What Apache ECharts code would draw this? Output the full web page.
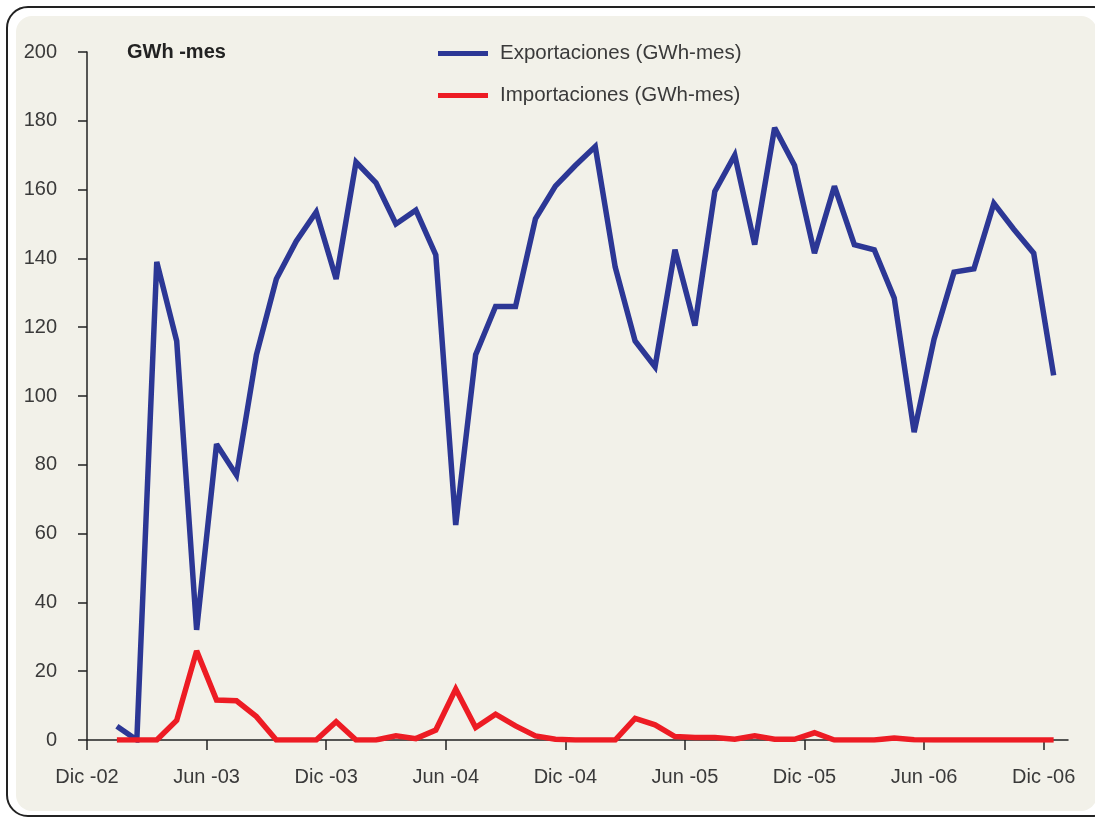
<!DOCTYPE html>
<html>
<head>
<meta charset="utf-8">
<script src="https://cdn.jsdelivr.net/npm/echarts@6/dist/echarts.min.js"></script>
<style>
  html, body { margin: 0; padding: 0; background: #ffffff; overflow: hidden; }
  #frame { position: absolute; left: 6px; top: 6px; width: 1110px; height: 811px;
           border: 2px solid #222; border-radius: 22px; box-sizing: border-box; }
  #panel { position: absolute; left: 16px; top: 16px; width: 1081px; height: 795px;
           background: #F2F1E9; border-radius: 16px; }
  #chart { position: absolute; left: 0; top: 0; width: 1095px; height: 817px; }
</style>
</head>
<body>
<div id="frame"></div>
<div id="panel"></div>
<div id="chart"></div>
<script>
// Monthly categories Jan-03 .. Dic-06
const months = [
  'Ene-03','Feb-03','Mar-03','Abr-03','May-03','Jun-03','Jul-03','Ago-03','Sep-03','Oct-03','Nov-03','Dic-03',
  'Ene-04','Feb-04','Mar-04','Abr-04','May-04','Jun-04','Jul-04','Ago-04','Sep-04','Oct-04','Nov-04','Dic-04',
  'Ene-05','Feb-05','Mar-05','Abr-05','May-05','Jun-05','Jul-05','Ago-05','Sep-05','Oct-05','Nov-05','Dic-05',
  'Ene-06','Feb-06','Mar-06','Abr-06','May-06','Jun-06','Jul-06','Ago-06','Sep-06','Oct-06','Nov-06','Dic-06'
];
const exportaciones = [
  4, 0, 139, 116, 32, 86, 77, 112, 134, 145, 153.5, 134,
  168, 162, 150, 154, 141, 62.5, 112, 126, 126, 151.5, 161, 167,
  172.5, 137.5, 116, 108.5, 142.5, 120.5, 159.5, 170, 144, 178, 167, 141.5,
  161, 144, 142.5, 128.5, 89.5, 116.5, 136, 137, 156, 148.5, 141.5, 106
];
const importaciones = [
  0, 0, 0, 5.7, 25.9, 11.6, 11.4, 6.8, 0, 0, 0, 5.3,
  0, 0, 1.2, 0.4, 2.9, 14.8, 3.6, 7.5, 4.1, 1.2, 0.2, 0,
  0, 0, 6.3, 4.4, 1, 0.7, 0.7, 0.2, 1.2, 0.2, 0.2, 2.1,
  0, 0, 0, 0.6, 0.1, 0, 0, 0, 0, 0, 0, 0
];
const tickLabels = ['Dic -02','Jun -03','Dic -03','Jun -04','Dic -04','Jun -05','Dic -05','Jun -06','Dic -06'];
const yTicks = [0, 20, 40, 60, 80, 100, 120, 140, 160, 180, 200];

// month position: Dic-02 tick = 0; month i of the list is plotted at its middle
const pos = (i) => i + 1.5;
const tickPos = tickLabels.map((_, k) => k * 6);

const FONT = '"Liberation Sans", Arial, sans-serif';
const TXT = '#3a3a3a';
const chart = echarts.init(document.getElementById('chart'), null, { renderer: 'canvas' });
chart.setOption({
  backgroundColor: 'transparent',
  animation: false,
  textStyle: { fontFamily: FONT },
  title: {
    text: 'GWh -mes', left: 122, top: 37,
    textStyle: { fontFamily: FONT, fontSize: 20, fontWeight: 'bold', color: '#222' }
  },
  legend: {
    orient: 'vertical', left: 433, top: 38,
    itemWidth: 50, itemHeight: 5, itemGap: 21,
    icon: 'rect',
    textStyle: { fontFamily: FONT, fontSize: 20.5, color: TXT, padding: [0, 0, 0, 7] },
    data: ['Exportaciones (GWh-mes)', 'Importaciones (GWh-mes)']
  },
  grid: { left: 87, right: 27, top: 52, bottom: 77, containLabel: false },
  xAxis: {
    type: 'value', min: 0, max: 49.22,
    axisLine: { show: true, onZero: false, lineStyle: { color: '#222', width: 1.5 } },
    axisTick: { show: true, length: 10, inside: false, customValues: tickPos,
                lineStyle: { color: '#222', width: 1.5 } },
    axisLabel: { customValues: tickPos, margin: 27, fontSize: 20, color: TXT, fontFamily: FONT,
                 formatter: (v) => tickLabels[Math.round(v / 6)] },
    splitLine: { show: false }
  },
  yAxis: {
    type: 'value', min: 0, max: 200, interval: 20,
    axisLine: { show: true, lineStyle: { color: '#222', width: 1.5 } },
    axisTick: { show: true, length: 9, lineStyle: { color: '#222', width: 1.5 } },
    axisLabel: { margin: 30, fontSize: 20, color: TXT, fontFamily: FONT,
                 customValues: yTicks },
    splitLine: { show: false }
  },
  series: [
    {
      name: 'Exportaciones (GWh-mes)', type: 'line', symbol: 'none',
      data: exportaciones.map((v, i) => [pos(i), v]),
      lineStyle: { color: '#2C3795', width: 5.5, join: 'miter', miterLimit: 3 },
      itemStyle: { color: '#2C3795' }
    },
    {
      name: 'Importaciones (GWh-mes)', type: 'line', symbol: 'none',
      data: importaciones.map((v, i) => [pos(i), v]),
      lineStyle: { color: '#ED1C24', width: 5.5, join: 'miter', miterLimit: 3 },
      itemStyle: { color: '#ED1C24' }
    }
  ]
});
</script>
</body>
</html>
